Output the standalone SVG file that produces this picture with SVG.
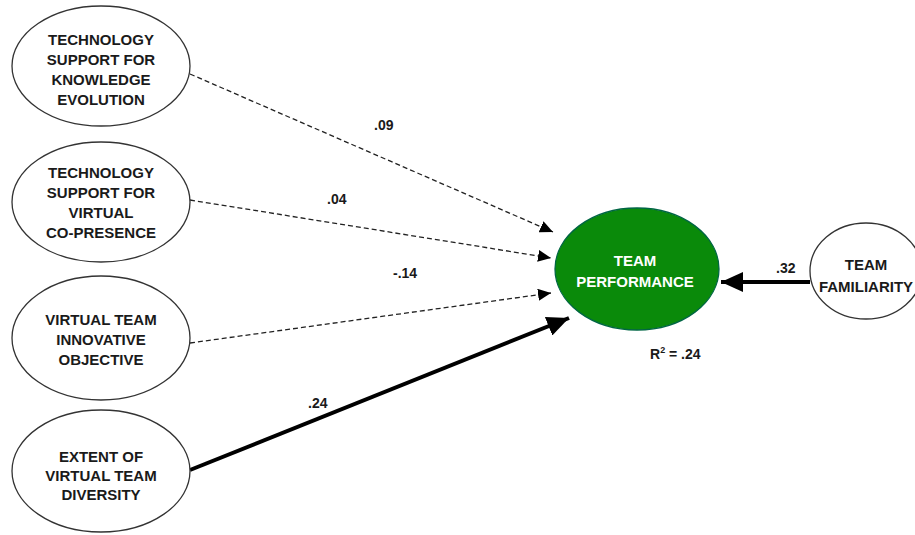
<svg xmlns="http://www.w3.org/2000/svg" width="915" height="535" viewBox="0 0 915 535">
<style>
.node{fill:#fff;stroke:#333;stroke-width:1.3}
.t{font-family:"Liberation Sans",Arial,sans-serif;font-weight:bold;font-size:15px;fill:#1a1a1a;text-anchor:middle}
.w{fill:#fff}
.lbl{font-family:"Liberation Sans",Arial,sans-serif;font-weight:bold;font-size:14px;fill:#1a1a1a}
.dash{fill:none;stroke:#222;stroke-width:1.3;stroke-dasharray:5,3}
.thick{fill:none;stroke:#000;stroke-width:4}
</style>
<defs>
<marker id="ah" markerUnits="userSpaceOnUse" markerWidth="14" markerHeight="12" refX="13" refY="6" orient="auto">
<path d="M0,0 L13,6 L0,12 Z" fill="#000"/>
</marker>
<marker id="ahb" markerUnits="userSpaceOnUse" markerWidth="24" markerHeight="20" refX="22" refY="10" orient="auto">
<path d="M0,0 L22,10 L0,20 Z" fill="#000"/>
</marker>
</defs>
<rect width="915" height="535" fill="#fff"/>
<g id="connectors">
<line class="dash" x1="190" y1="74" x2="553" y2="232" marker-end="url(#ah)"/>
<line class="dash" x1="190" y1="200" x2="551" y2="258" marker-end="url(#ah)"/>
<line class="dash" x1="190" y1="343" x2="551" y2="293" marker-end="url(#ah)"/>
<line class="thick" x1="190" y1="470" x2="569" y2="318" marker-end="url(#ahb)"/>
<line class="thick" x1="810" y1="282" x2="721" y2="282" marker-end="url(#ahb)"/>
<text class="lbl" x="374" y="130">.09</text>
<text class="lbl" x="327" y="204">.04</text>
<text class="lbl" x="393" y="278">-.14</text>
<text class="lbl" x="308" y="408">.24</text>
<text class="lbl" x="776" y="273">.32</text>
</g>
<g id="n1">
<ellipse class="node" cx="101" cy="66" rx="89" ry="60"/>
<text class="t" x="101" y="45">TECHNOLOGY</text>
<text class="t" x="101" y="65">SUPPORT FOR</text>
<text class="t" x="101" y="85">KNOWLEDGE</text>
<text class="t" x="101" y="105">EVOLUTION</text>
</g>
<g id="n2">
<ellipse class="node" cx="101" cy="202" rx="89" ry="60"/>
<text class="t" x="101" y="178">TECHNOLOGY</text>
<text class="t" x="101" y="198">SUPPORT FOR</text>
<text class="t" x="101" y="218">VIRTUAL</text>
<text class="t" x="101" y="238">CO-PRESENCE</text>
</g>
<g id="n3">
<ellipse class="node" cx="101" cy="338" rx="89" ry="62"/>
<text class="t" x="101" y="325">VIRTUAL TEAM</text>
<text class="t" x="101" y="345">INNOVATIVE</text>
<text class="t" x="101" y="365">OBJECTIVE</text>
</g>
<g id="n4">
<ellipse class="node" cx="101" cy="471" rx="89" ry="61"/>
<text class="t" x="101" y="462">EXTENT OF</text>
<text class="t" x="101" y="481">VIRTUAL TEAM</text>
<text class="t" x="101" y="500">DIVERSITY</text>
</g>
<g id="team_performance">
<ellipse cx="637" cy="269" rx="82" ry="61" fill="#0a8a0a" stroke="#064" stroke-width="1.3"/>
<text class="t w" x="635" y="266">TEAM</text>
<text class="t w" x="635" y="287">PERFORMANCE</text>
<text class="lbl" x="650" y="359">R<tspan font-size="9" dy="-6">2</tspan><tspan dy="6"> = .24</tspan></text>
</g>
<g id="team_familiarity">
<ellipse class="node" cx="866" cy="271" rx="56" ry="48"/>
<text class="t" x="866" y="270">TEAM</text>
<text class="t" x="866" y="292">FAMILIARITY</text>
</g>
</svg>
